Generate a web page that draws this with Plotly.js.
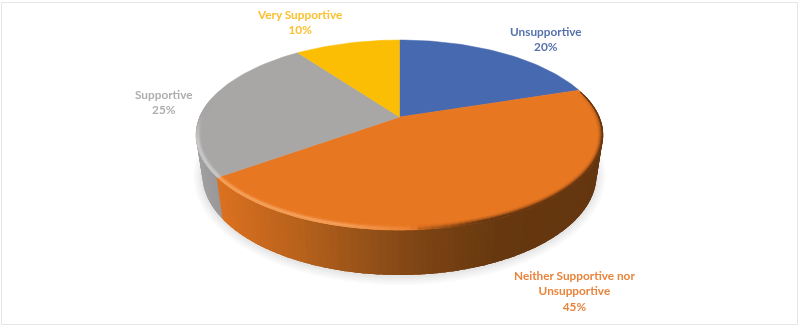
<!DOCTYPE html>
<html>
<head>
<meta charset="utf-8">
<script src="https://cdn.plot.ly/plotly-3.0.1.min.js"></script>
<style>html,body{margin:0;padding:0;background:#fff}#chart{width:800px;height:327px;filter:blur(0.45px)}</style>
</head>
<body>
<div id="chart"></div>
<script>
const categories = ["Unsupportive", "Neither Supportive nor Unsupportive", "Supportive", "Very Supportive"];
const shares = [20, 45, 25, 10];
const sliceColors = ["#4769B0", "#E87722", "#A9A6A6", "#FBBE05"];
const labelColors = ["#5671AE", "#E9843C", "#AFAEAE", "#FBC02D"];
const labelLines = [["Unsupportive", "20%"], ["Neither Supportive nor", "Unsupportive", "45%"], ["Supportive", "25%"], ["Very Supportive", "10%"]];
const labelX = [546, 574.5, 164, 299];
const labelY = [39, 291, 102, 22];

// projection of the tilted disc
const top_ = {cx: 399.5, cy: 135, rx: 203.5, ry: 95};
const base = {cx: 399.5, cy: 175, rx: 197, ry: 100};
const tilt = -0.19;
function project(deg, r) {
  const t = deg * Math.PI / 180, u0 = r * Math.sin(t), v0 = -r * Math.cos(t);
  const d = 1 + tilt * v0;
  return [(u0 * Math.sqrt(1 - tilt * tilt)) / d, (v0 + tilt) / d];
}
const px = (e, u, v) => [e.cx + e.rx * u, e.cy + e.ry * v];
const hex = c => [1, 3, 5].map(i => parseInt(c.substr(i, 2), 16));
const mixRGB = (A, B, t) => "rgb(" + A.map((x, i) => Math.round(x + (B[i] - x) * t)).join(",") + ")";
function ramp(stops, x) {
  if (x <= stops[0][0]) return hex(stops[0][1]);
  for (let i = 1; i < stops.length; i++) if (x <= stops[i][0]) {
    const t = (x - stops[i - 1][0]) / (stops[i][0] - stops[i - 1][0]);
    const A = hex(stops[i - 1][1]), B = hex(stops[i][1]);
    return A.map((a, k) => a + (B[k] - a) * t);
  }
  return hex(stops[stops.length - 1][1]);
}
const clamp = x => Math.max(0, Math.min(1, x));
const orangeSide = [[218, "#DB7120"], [250, "#CC6A1E"], [300, "#B6611C"], [380, "#8F4E17"], [430, "#7A4213"], [500, "#67380F"], [610, "#643610"]];
const greySide = [[190, "#A3A1A1"], [222, "#989696"]];

const traces = [];
const noHover = {hoverinfo: "skip", showlegend: false};

// soft shadow
[9, 7, 5, 3, 1.5].forEach(k => {
  const xs = [], ys = [];
  for (let a = 0; a <= 360; a += 4) {
    const t = a * Math.PI / 180;
    xs.push(base.cx + (base.rx + k) * Math.cos(t));
    ys.push(base.cy + 1 + (base.ry + k) * Math.sin(t));
  }
  traces.push({type: "scatter", mode: "none", x: xs, y: ys, fill: "toself", fillcolor: "rgba(60,60,60,0.028)", ...noHover});
});

// slice boundaries expressed as ellipse parameter
let cum = 0; const bounds = [0];
shares.forEach(s => { cum += s; bounds.push(cum); });
const total = cum;
const ang = p => p / total * 360;
const [ub, vb] = project(ang(bounds[2]), 1);
const greyStart = Math.atan2(vb, ub) * 180 / Math.PI;   // orange/grey seam on the front
const [ur, vr] = project(ang(bounds[1]), 1);
const orangeStart = Math.atan2(vr, ur) * 180 / Math.PI; // blue/orange seam at the right

// side wall: painted strip over strip so no seams show through
const stepA = 2;
const sideStrip = (a, a2, c) => {
  const pts = [];
  for (let q = a; q <= a2 + 1e-6; q += 1) { const t = q * Math.PI / 180; pts.push(px(top_, Math.cos(t), Math.sin(t))); }
  for (let q = a2; q >= a - 1e-6; q -= 1) { const t = q * Math.PI / 180; pts.push(px(base, Math.cos(t), Math.sin(t))); }
  pts.push(pts[0]);
  traces.push({type: "scatter", mode: "none", x: pts.map(p => p[0]), y: pts.map(p => p[1]), fill: "toself", fillcolor: c, ...noHover});
};
for (let a = -12; a < 196; a += stepA) {
  const isGrey = a + stepA / 2 > greyStart;
  const mid = top_.cx + top_.rx * Math.cos((a + stepA / 2) * Math.PI / 180);
  const col = isGrey ? ramp(greySide, mid) : ramp(orangeSide, mid);
  const c = "rgb(" + col.map(Math.round).join(",") + ")";
  const end = isGrey ? a + stepA + 3 : Math.min(a + stepA + 3, greyStart + 0.01 > a + stepA ? a + stepA + 3 : greyStart);
  sideStrip(a, end, c);
}

// top face slices
shares.forEach((s, i) => {
  const a0 = ang(bounds[i]), a1 = ang(bounds[i + 1]);
  const xs = [], ys = [];
  const C = px(top_, ...project(0, 0));
  xs.push(C[0]); ys.push(C[1]);
  const n = Math.max(8, Math.ceil((a1 - a0) / 1.5));
  for (let k = 0; k <= n; k++) {
    const p = px(top_, ...project(a0 + (a1 - a0) * k / n, 1));
    xs.push(p[0]); ys.push(p[1]);
  }
  xs.push(C[0]); ys.push(C[1]);
  traces.push({type: "scatter", mode: "lines", name: categories[i], x: xs, y: ys, fill: "toself", fillcolor: sliceColors[i], line: {color: sliceColors[i], width: 0.5}, ...noHover});
});

// rim: bevel highlight on the lit side, soft dark edge on the far side
const insets = [4.4, 3.4, 2.4, 1.4, 0.4];
const lightProfile = [0.1, 0.3, 0.6, 0.85, 0.75];
const darkProfile = [0.07, 0.2, 0.42, 0.7, 0.95];
insets.forEach((d, li) => {
  const e = {cx: top_.cx, cy: top_.cy, rx: top_.rx - d, ry: top_.ry - d};
  for (let a = orangeStart + 1; a < 200; a += stepA) {
    const a2 = a + stepA * 2.2;
    const mid = top_.cx + top_.rx * Math.cos((a + stepA / 2) * Math.PI / 180);
    const isGrey = a + stepA / 2 > greyStart;
    const end = (!isGrey && a2 > greyStart) ? greyStart : a2;
    const face = hex(isGrey ? sliceColors[2] : sliceColors[1]);
    const hi = hex(isGrey ? "#CFCECE" : "#F6A765");
    const dk = hex("#5F330F");
    const lightAmt = clamp((440 - mid) / 100);
    const depth = li === insets.length - 1 ? 1 : clamp((a - orangeStart) / 30);
    const darkAmt = clamp((mid - 400) / 80) * depth;
    const fade = isGrey ? clamp(1 - (a - 176) / 14) : 1;
    const useDark = mid > 415;
    const col = useDark ? mixRGB(face, dk, darkProfile[li] * darkAmt)
                        : mixRGB(face, hi, lightProfile[li] * lightAmt * fade);
    const t1 = a * Math.PI / 180, t2 = end * Math.PI / 180;
    const p1 = px(e, Math.cos(t1), Math.sin(t1)), p2 = px(e, Math.cos(t2), Math.sin(t2));
    traces.push({type: "scatter", mode: "lines", x: [p1[0], p2[0]], y: [p1[1], p2[1]], line: {color: col, width: 1.3}, ...noHover});
  }
});

const annotations = categories.map((c, i) => ({
  xref: "x", yref: "y", x: labelX[i], y: labelY[i], xanchor: "center", yanchor: "middle",
  text: labelLines[i].join("<br>") , showarrow: false, align: "center",
  font: {family: "Lato, 'Open Sans', sans-serif", size: 11.8, color: labelColors[i], weight: 700}
}));

Plotly.newPlot("chart", traces, {
  width: 800, height: 327, margin: {l: 0, r: 0, t: 0, b: 0},
  paper_bgcolor: "#fff", plot_bgcolor: "#fff", showlegend: false, hovermode: false,
  xaxis: {range: [0, 800], visible: false, fixedrange: true},
  yaxis: {range: [327, 0], visible: false, fixedrange: true},
  annotations,
  shapes: [{type: "rect", xref: "x", yref: "y", x0: 1.5, x1: 797.5, y0: 2.5, y1: 324.5, line: {color: "#E6E6E6", width: 1}, layer: "below"}]
}, {displayModeBar: false, staticPlot: true});
</script>
</body>
</html>
